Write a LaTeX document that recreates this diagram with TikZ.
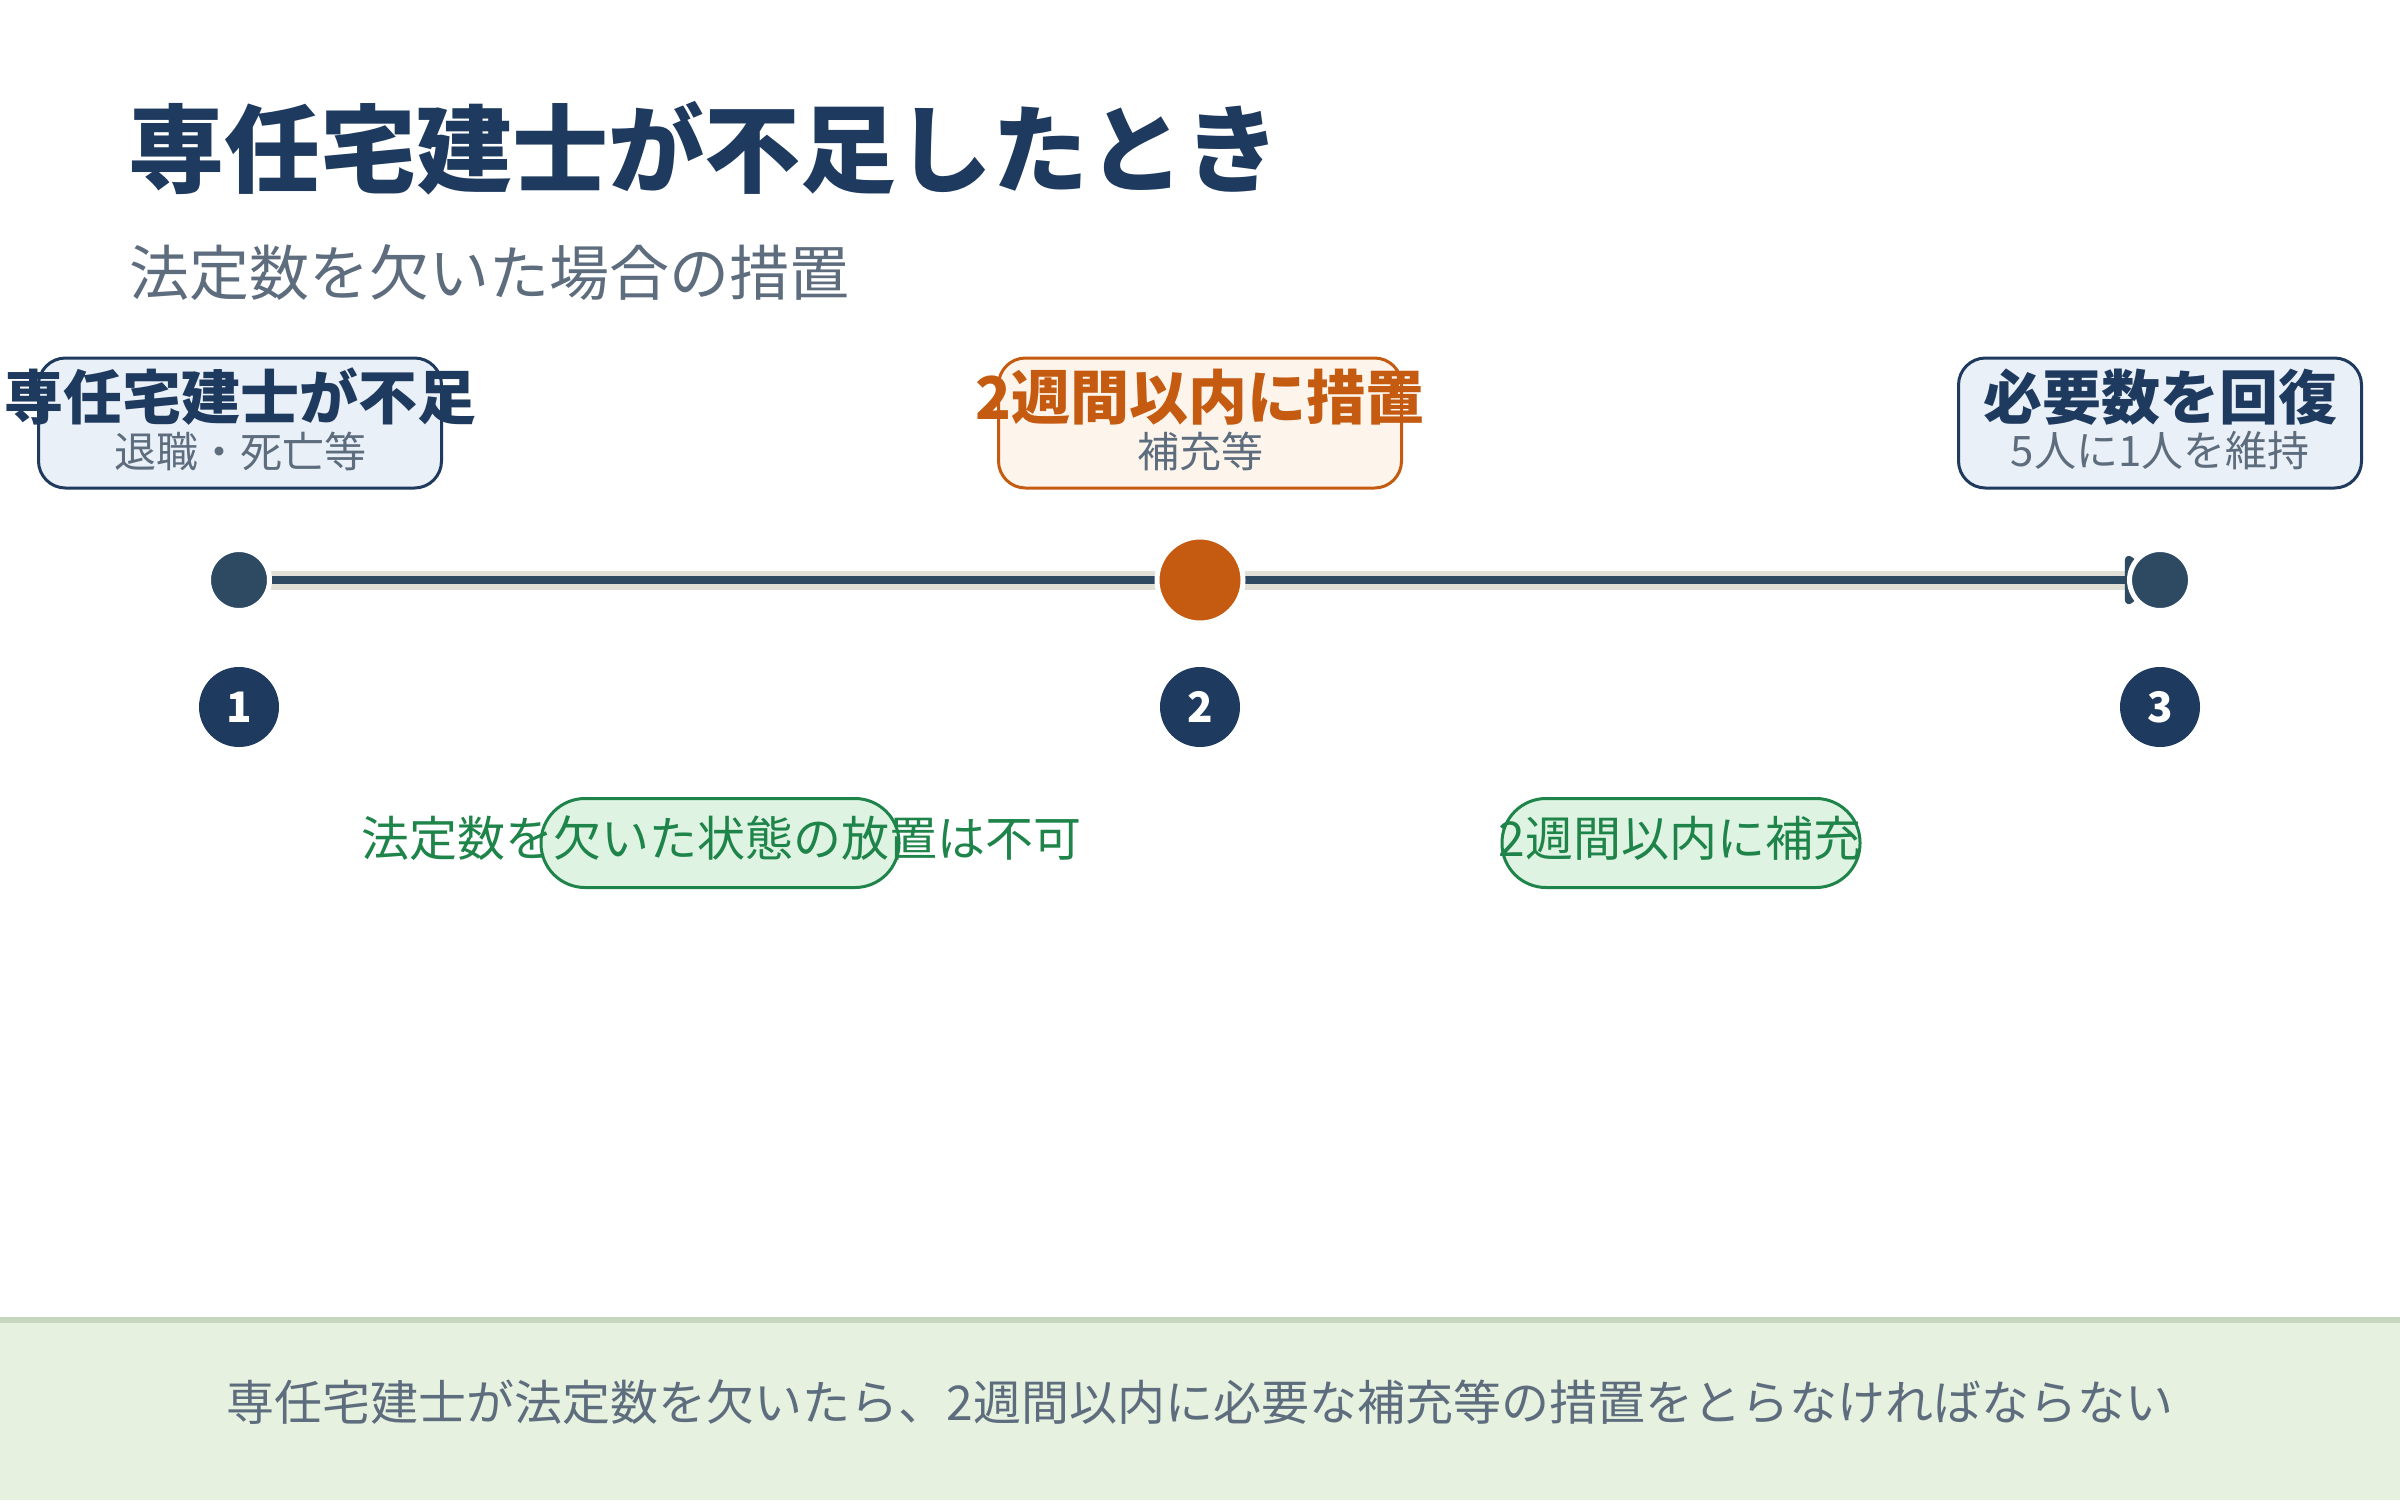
\documentclass[tikz,border=0pt]{standalone}
\usepackage{fontspec}
\setmainfont{Noto Sans CJK JP}
\usetikzlibrary{arrows.meta}
\definecolor{navy}{HTML}{1E3A5F}
\definecolor{slate}{HTML}{2E4A62}
\definecolor{orng}{HTML}{C55A11}
\definecolor{orngfill}{HTML}{FDF5EB}
\definecolor{bluefill}{HTML}{EAF0F7}
\definecolor{graytxt}{HTML}{5D6D7E}
\definecolor{grn}{HTML}{1E8449}
\definecolor{grnfill}{HTML}{DFF3E3}
\definecolor{bandcol}{HTML}{E0E0D6}
\definecolor{botfill}{HTML}{E6F1DF}
\definecolor{botline}{HTML}{C5D8BE}
\begin{document}
\begin{tikzpicture}[x=1pt,y=-1pt,
  topbox/.style={rectangle, rounded corners=27pt, line width=3pt, minimum width=403pt, minimum height=130pt, inner sep=0pt},
  boxtitle/.style={inner sep=0pt, font=\fontsize{59}{60}\selectfont\bfseries},
  boxsub/.style={inner sep=0pt, text=graytxt, font=\fontsize{42}{44}\selectfont},
  dot/.style={circle, draw=white, line width=5pt, inner sep=0pt},
  numdot/.style={circle, fill=navy, minimum size=80pt, inner sep=0pt, text=white, font=\fontsize{42}{44}\selectfont\bfseries},
  pill/.style={rectangle, rounded corners=44pt, draw=grn, fill=grnfill, line width=3pt, minimum width=358pt, minimum height=89pt, inner sep=0pt},
  pilltxt/.style={inner sep=0pt, text=grn, font=\fontsize{48}{50}\selectfont}
]
\useasboundingbox[fill=white] (0,0) rectangle (2400,1500);

% title
\node[anchor=west, inner sep=0pt, text=navy, font=\fontsize{96}{100}\selectfont\bfseries] (title) at (128,148) {専任宅建士が不足したとき};
\node[anchor=west, inner sep=0pt, text=graytxt, font=\fontsize{60}{64}\selectfont] (subtitle) at (129,273) {法定数を欠いた場合の措置};

% top boxes
\node[topbox, draw=navy, fill=bluefill] (b1) at (240,423) {};
\node[boxtitle, text=navy] (b1t) at (240,397) {\makebox[0pt]{専任宅建士が不足}};
\node[boxsub] (b1s) at (240,451) {退職・死亡等};

\node[topbox, draw=orng, fill=orngfill] (b2) at (1200,423) {};
\node[boxtitle, text=orng] (b2t) at (1200,397) {\makebox[0pt]{2週間以内に措置}};
\node[boxsub] (b2s) at (1200,451) {補充等};

\node[topbox, draw=navy, fill=bluefill] (b3) at (2160,423) {};
\node[boxtitle, text=navy] (b3t) at (2160,397) {必要数を回復};
\node[boxsub] (b3s) at (2160,451) {5人に1人を維持};

% timeline
\coordinate (c1) at (239,580);
\coordinate (c3) at (2160,580);
\coordinate (bandend) at (2125,580);
\draw[bandcol, line width=19pt] (c1) -- (bandend);
\draw[slate, line width=8pt, -{Triangle[width=54pt,length=38pt,round]}] (c1) -- (c3);

\node[dot, fill=slate, minimum size=61pt] (d1) at (c1) {};
\node[dot, fill=orng, minimum size=86pt] (d2) at (1200,580) {};
\node[dot, fill=slate, minimum size=61pt] (d3) at (c3) {};

% numbers
\node[numdot] (n1) at (239,707) {1};
\node[numdot] (n2) at (1200,707) {2};
\node[numdot] (n3) at (2160,707) {3};

% green labels
\node[pill] (p1) at (720,843) {};
\node[pilltxt] (l1) at (721,838) {法定数を欠いた状態の放置は不可};
\node[pill] (p2) at (1681,843) {};
\node[pilltxt] (l2) at (1680,838) {2週間以内に補充};

% bottom note
\fill[botfill] (0,1320) rectangle (2400,1500);
\draw[botline, line width=6pt] (0,1320) -- (2400,1320);
\node[inner sep=0pt, text=graytxt, font=\fontsize{48}{50}\selectfont] (note) at (1200,1402) {専任宅建士が法定数を欠いたら、2週間以内に必要な補充等の措置をとらなければならない};
\end{tikzpicture}
\end{document}
